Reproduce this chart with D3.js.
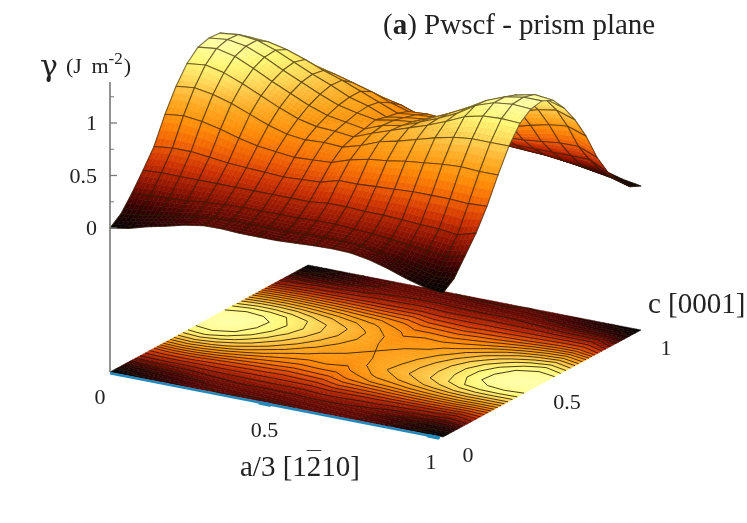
<!DOCTYPE html>
<meta charset="utf-8">
<style>
body { margin: 0; background: #fff; }
svg { display: block; }
text { font-family: "Liberation Serif", serif; fill: #222; filter: blur(0.35px); }
.marks { filter: blur(0.55px); }
</style>
<svg width="747" height="523"></svg>
<script src="https://d3js.org/d3.v7.min.js"></script>
<script>

var aTicks = [0, 0.5, 1];
var cTicks = [0, 0.5, 1];
var zTickLabels = [0, 0.5, 1];
var zTicksMinor = [0.25, 0.75, 1.25];

// energy: one row per a/3 step (18 steps), values along c (18 steps)
var gamma = [
  [0,.08,.22,.38,.55,.8,1.01,1.17,1.27,1.3,1.29,1.2,1.03,.82,.57,.33,.18,.05,0],
  [.03,.1,.23,.39,.57,.82,1.03,1.19,1.29,1.32,1.31,1.23,1.06,.84,.59,.35,.2,.07,.02],
  [.08,.13,.24,.39,.57,.8,1.0,1.15,1.25,1.29,1.29,1.22,1.06,.85,.6,.37,.22,.11,.07],
  [.12,.16,.25,.39,.55,.76,.95,1.08,1.17,1.22,1.23,1.18,1.04,.84,.6,.38,.24,.15,.13],
  [.165,.19,.27,.39,.53,.71,.88,1.0,1.08,1.13,1.15,1.12,1.0,.82,.6,.39,.26,.19,.18],
  [.195,.21,.28,.39,.52,.67,.81,.92,1.0,1.05,1.07,1.05,.96,.8,.59,.4,.28,.22,.21],
  [.2,.22,.29,.39,.51,.65,.76,.85,.92,.97,1.0,.99,.91,.77,.58,.4,.29,.23,.215],
  [.19,.22,.29,.39,.5,.63,.74,.81,.86,.9,.92,.92,.86,.75,.57,.41,.3,.23,.21],
  [.19,.22,.29,.39,.51,.64,.75,.8,.83,.86,.87,.85,.79,.71,.57,.41,.3,.23,.2],
  [.19,.22,.29,.39,.52,.65,.74,.78,.8,.83,.8,.78,.74,.65,.52,.39,.29,.22,.19],
  [.2,.23,.3,.41,.57,.71,.79,.85,.87,.86,.83,.8,.75,.64,.51,.39,.29,.22,.19],
  [.21,.23,.3,.41,.57,.75,.86,.91,.9,.88,.85,.81,.74,.63,.5,.39,.29,.22,.19],
  [.215,.23,.29,.4,.58,.77,.9,.97,.97,.95,.91,.85,.76,.65,.51,.39,.29,.22,.2],
  [.21,.22,.28,.4,.59,.8,.95,1.03,1.04,1.03,.99,.92,.81,.67,.52,.39,.28,.21,.195],
  [.18,.19,.26,.39,.6,.82,1.0,1.1,1.12,1.12,1.08,1.0,.88,.71,.53,.39,.27,.19,.165],
  [.13,.15,.24,.38,.6,.84,1.04,1.18,1.23,1.22,1.17,1.08,.95,.76,.55,.39,.25,.16,.12],
  [.07,.11,.22,.37,.6,.85,1.06,1.22,1.29,1.29,1.25,1.15,1.0,.8,.57,.39,.24,.13,.08],
  [.02,.07,.2,.35,.59,.84,1.06,1.23,1.31,1.32,1.29,1.19,1.03,.82,.57,.39,.23,.1,.03],
  [0,.08,.24,.4,.6,.84,1.06,1.22,1.3,1.32,1.27,1.14,.97,.76,.5,.3,.16,.05,0]
];

var paletteStops = [0, .15, .3, .45, .6, .75, .9, 1.0, 1.1, 1.2, 1.32];
var paletteColors = ["#000000", "#3a0000", "#8c1200", "#cc3000", "#f06000", "#ff8a06", "#ffa820", "#ffc040", "#ffe060", "#fff878", "#ffffa8"];

var svg = d3.select("svg");
var marks = svg.append("g").attr("class", "marks");

var na = gamma.length - 1, nc = gamma[0].length - 1;

// oblique projection of the box, one scale per screen direction
var aX = d3.scaleLinear().domain([0, 1]).range([0, 333]);
var aY = d3.scaleLinear().domain([0, 1]).range([0, 65]);
var cX = d3.scaleLinear().domain([0, 1]).range([0, 198]);
var cY = d3.scaleLinear().domain([0, 1]).range([0, -107]);
var zY = d3.scaleLinear().domain([0, 1]).range([228, 123]);
var floorY = 372, originX = 110;
var hot = d3.scaleLinear().domain(paletteStops).range(paletteColors).clamp(true);

function project(a, c, z) {
  return [originX + aX(a) + cX(c), (z === null ? floorY : zY(z)) + aY(a) + cY(c)];
}

function polyPath(pts) {
  return "M" + pts.map(function(p) { return p[0].toFixed(2) + "," + p[1].toFixed(2); }).join("L") + "Z";
}

function zAt(i, j, u, v) {
  var z0 = gamma[i][j] * (1 - u) + gamma[i + 1][j] * u;
  var z1 = gamma[i][j + 1] * (1 - u) + gamma[i + 1][j + 1] * u;
  return z0 * (1 - v) + z1 * v;
}

// shade one mesh cell in small pieces, colour follows the height
function shadeCell(g, i, j, flat) {
  var sub = 4;
  for (var sv = sub - 1; sv >= 0; sv--) {
    for (var su = 0; su < sub; su++) {
      var corners = [[su, sv], [su + 1, sv], [su + 1, sv + 1], [su, sv + 1]].map(function(k) {
        var u = k[0] / sub, v = k[1] / sub;
        return project((i + u) / na, (j + v) / nc, flat ? null : zAt(i, j, u, v));
      });
      var col = hot(zAt(i, j, (su + .5) / sub, (sv + .5) / sub));
      g.append("path").attr("d", polyPath(corners))
        .attr("fill", col).attr("stroke", col).attr("stroke-width", 0.5);
    }
  }
}

// floor map
var floor = marks.append("g");
for (var j = nc - 1; j >= 0; j--) {
  for (var i = 0; i < na; i++) shadeCell(floor, i, j, true);
}

// contours on the floor, d3.contours puts sample i at i + 0.5
var flatValues = [];
for (var cj = 0; cj <= nc; cj++) {
  for (var ai = 0; ai <= na; ai++) flatValues.push(gamma[ai][cj]);
}
var levels = d3.range(0.06, 1.34, 0.07);
var contours = d3.contours().size([na + 1, nc + 1]).thresholds(levels)(flatValues);
var contourLine = d3.line()
  .defined(function(p) { return p[0] >= .5 && p[0] <= na + .5 && p[1] >= .5 && p[1] <= nc + .5; })
  .x(function(p) { return project((p[0] - .5) / na, (p[1] - .5) / nc, null)[0]; })
  .y(function(p) { return project((p[0] - .5) / na, (p[1] - .5) / nc, null)[1]; });
contours.forEach(function(ct) {
  ct.coordinates.forEach(function(poly) {
    poly.forEach(function(ring) {
      floor.append("path").attr("d", contourLine(ring))
        .attr("fill", "none").attr("stroke", "#2a1a00")
        .attr("stroke-opacity", 0.85).attr("stroke-width", 1);
    });
  });
});

// surface, painted from the far corner forwards with its mesh
var surface = marks.append("g");
for (var sj = nc - 1; sj >= 0; sj--) {
  for (var si = 0; si < na; si++) {
    shadeCell(surface, si, sj, false);
    var outline = [[si, sj], [si + 1, sj], [si + 1, sj + 1], [si, sj + 1]].map(function(k) {
      return project(k[0] / na, k[1] / nc, gamma[k[0]][k[1]]);
    });
    surface.append("path").attr("d", polyPath(outline))
      .attr("fill", "none").attr("stroke", "#2b1d05")
      .attr("stroke-opacity", 0.62).attr("stroke-width", 1.1)
      .attr("stroke-linejoin", "round");
  }
}

// vertical axis
var axis = svg.append("g").attr("stroke", "#777");
axis.append("line").attr("x1", originX).attr("x2", originX)
  .attr("y1", 82).attr("y2", floorY).attr("stroke-width", 1.6);
zTickLabels.forEach(function(t) {
  axis.append("line").attr("x1", originX).attr("x2", originX + 7)
    .attr("y1", zY(t)).attr("y2", zY(t)).attr("stroke-width", 1.3);
});
zTicksMinor.forEach(function(t) {
  axis.append("line").attr("x1", originX).attr("x2", originX + 4)
    .attr("y1", zY(t)).attr("y2", zY(t)).attr("stroke-width", 1);
});

// blue line along the a axis with its ticks
var blue = "#2389bd";
var p0 = project(0, 0, null), p1 = project(1, 0, null);
svg.append("line").attr("x1", p0[0]).attr("y1", p0[1] + 1.2).attr("x2", p1[0] - 3).attr("y2", p1[1] + .7)
  .attr("stroke", blue).attr("stroke-width", 2.6);
[0.465, 0.97].forEach(function(t) {
  var p = project(t, 0, null);
  svg.append("line").attr("x1", p[0] - 6).attr("y1", p[1] + .5).attr("x2", p[0] + 6).attr("y2", p[1] + 2.9)
    .attr("stroke", blue).attr("stroke-width", 3.6);
});

// labels
var tickSize = 22;
zTickLabels.forEach(function(t) {
  svg.append("text").attr("x", 97).attr("y", zY(t) + 7).attr("text-anchor", "end")
    .attr("font-size", tickSize).text(t);
});
aTicks.forEach(function(t) {
  var p = project(t, 0, null);
  svg.append("text").attr("x", p[0] - (t === 0 ? 10 : 12)).attr("y", p[1] + 32).attr("text-anchor", "middle")
    .attr("font-size", tickSize).text(t);
});
cTicks.forEach(function(t) {
  var p = project(1, t, null);
  svg.append("text").attr("x", p[0] + 25).attr("y", p[1] + 25).attr("text-anchor", "middle")
    .attr("font-size", tickSize).text(t);
});

var title = svg.append("text").attr("x", 383).attr("y", 34).attr("font-size", 29);
title.append("tspan").text("(");
title.append("tspan").attr("font-weight", "bold").text("a");
title.append("tspan").text(") Pwscf - prism plane");

var aLabel = svg.append("text").attr("x", 240).attr("y", 476).attr("font-size", 29);
aLabel.append("tspan").text("a/3 [1");
aLabel.append("tspan").style("text-decoration", "overline").text("2");
aLabel.append("tspan").text("10]");
svg.append("text").attr("x", 648).attr("y", 313).attr("font-size", 29).text("c [0001]");

svg.append("text").attr("x", 40).attr("y", 76).attr("font-size", 30)
  .style("font-family", "'DejaVu Serif', serif").text("\u03b3");
var unit = svg.append("text").attr("x", 66).attr("y", 73).attr("font-size", 22);
unit.append("tspan").text("(J");
unit.append("tspan").attr("dx", 4).text(" m");
unit.append("tspan").attr("dy", -9).attr("font-size", 17).text("-2");
unit.append("tspan").attr("dy", 9).attr("dx", 1).text(")");

</script>
